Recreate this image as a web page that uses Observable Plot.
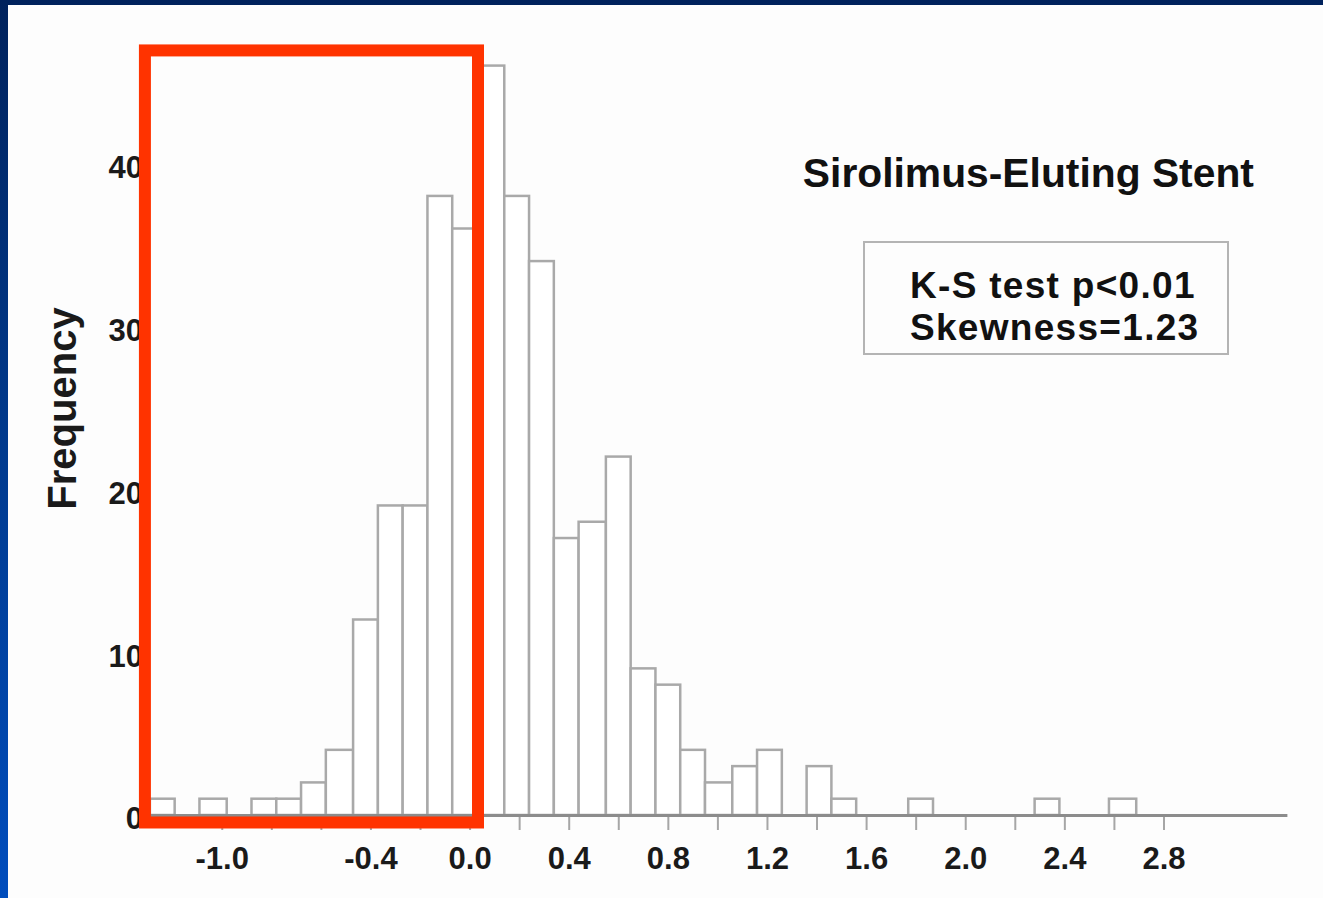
<!DOCTYPE html>
<html>
<head>
<meta charset="utf-8">
<script src="https://cdn.jsdelivr.net/npm/d3@7"></script>
<script src="https://cdn.jsdelivr.net/npm/@observablehq/plot@0.6"></script>
<style>
  html, body { margin: 0; padding: 0; }
  body {
    width: 1323px; height: 898px; overflow: hidden; position: relative;
    background: linear-gradient(180deg, #00225c 0%, #003a8e 50%, #004dbd 100%);
    font-family: "Liberation Sans", Arial, Helvetica, sans-serif;
  }
  #panel { position: absolute; left: 8px; top: 5px; width: 1315px; height: 893px; background: #fdfdfd; }
  #chart { position: absolute; left: 0; top: 0; }
  #stats {
    position: absolute; left: 855px; top: 236px; width: 362px; height: 110px;
    border: 2px solid #b4b4b4; box-sizing: content-box;
    font-weight: bold; font-size: 37px; line-height: 41.5px; letter-spacing: 1.3px; color: #111;
  }
  #stats div { padding-left: 45px; white-space: nowrap; }
  #stats div:first-child { padding-top: 22px; }
</style>
</head>
<body>
<div id="panel">
  <div id="chart"></div>
  <div id="stats"><div>K-S test p&lt;0.01</div><div>Skewness=1.23</div></div>
</div>
<script>
// Histogram bin edges (41) and counts (40)
const binEdges = [-1.29, -1.19, -1.09, -0.98, -0.88, -0.78, -0.68, -0.58, -0.47, -0.37,
  -0.27, -0.17, -0.07, 0.04, 0.14, 0.24, 0.34, 0.44, 0.55, 0.65,
  0.75, 0.85, 0.95, 1.06, 1.16, 1.26, 1.36, 1.46, 1.56, 1.67,
  1.77, 1.87, 1.97, 2.07, 2.18, 2.28, 2.38, 2.48, 2.58, 2.69, 2.79];
const counts = [1, 0, 1, 0, 1, 1, 2, 4, 12, 19,
  19, 38, 36, 46, 38, 34, 17, 18, 22, 9,
  8, 4, 2, 3, 4, 0, 3, 1, 0, 0,
  1, 0, 0, 0, 0, 1, 0, 0, 1, 0];
const xTicks = [-1.0, -0.8, -0.6, -0.4, -0.2, 0.0, 0.2, 0.4, 0.6, 0.8, 1.0, 1.2, 1.4, 1.6, 1.8, 2.0, 2.2, 2.4, 2.6, 2.8];
const xLabels = [-1.0, -0.4, 0.0, 0.4, 0.8, 1.2, 1.6, 2.0, 2.4, 2.8];
const yTicks = [0, 10, 20, 30, 40];
const title = "Sirolimus-Eluting Stent";
const yTitle = "Frequency";
// highlighted region (red box) in data units
const highlight = [{x1: -1.31, x2: 0.034, y1: -0.46, y2: 46.93}];

const bins = counts.map((c, i) => ({lo: binEdges[i], hi: binEdges[i + 1], count: c})).filter(d => d.count > 0);

const font = "Liberation Sans, Arial, sans-serif";
const chart = Plot.plot({
  width: 1315,
  height: 893,
  marginLeft: 139.4,
  marginRight: 35.6,
  marginTop: 28,
  marginBottom: 83,
  style: {background: "transparent", fontFamily: font, overflow: "visible"},
  x: {domain: [-1.3, 3.3]},
  y: {domain: [0, 48]},
  marks: [
    Plot.rectY(bins, {x1: "lo", x2: "hi", y: "count", fill: "white", stroke: "#a9a9a9", strokeWidth: 2.5}),
    Plot.axisX(xTicks, {tickSize: 15, tickFormat: () => "", stroke: "#a6a6a6", strokeWidth: 2, label: null}),
    Plot.axisX(xLabels, {tickSize: 0, tickPadding: 31, tickFormat: d => d.toFixed(1), fontSize: 31, fontWeight: "bold", fill: "#1a1a1a", label: null}),
    Plot.axisY(yTicks, {tickSize: 0, tickPadding: 5, dy: 4, fontSize: 31, fontWeight: "bold", fill: "#1a1a1a", label: null}),
    Plot.ruleY([0], {stroke: "#8c8c8c", strokeWidth: 3}),
    Plot.text([yTitle], {frameAnchor: "left", rotate: -90, dx: -84.4, dy: -16, fontSize: 40, fontWeight: "bold", fill: "#1a1a1a", textAnchor: "middle", lineAnchor: "middle"}),
    Plot.text([title], {frameAnchor: "top-right", textAnchor: "end", lineAnchor: "top", dx: -34, dy: 125, fontSize: 40.8, fontWeight: "bold", fill: "#111"}),
    Plot.rect(highlight, {x1: "x1", x2: "x2", y1: "y1", y2: "y2", fill: "none", stroke: "#ff3300", strokeWidth: 12, clip: false})
  ]
});
document.getElementById("chart").appendChild(chart);
</script>
</body>
</html>
